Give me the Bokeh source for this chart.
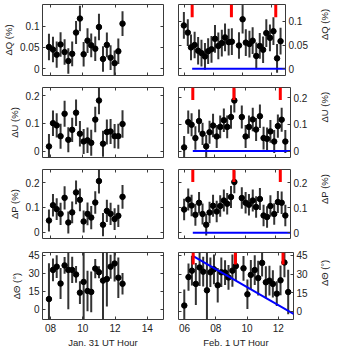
import math
from bokeh.plotting import figure
from bokeh.models import Range1d, FixedTicker, LinearAxis
from bokeh.layouts import column, row
from bokeh.embed import file_html
from bokeh.resources import INLINE

# ---------------- data ----------------
x_jan = [7.90, 8.15, 8.38, 8.62, 8.87, 9.10, 9.34, 9.58, 9.82, 10.05,
         10.29, 10.52, 10.77, 11.00, 11.25, 11.49, 11.72, 11.97, 12.20, 12.46]
x_feb = [5.98, 6.25, 6.47, 6.72, 6.96, 7.19, 7.43, 7.65, 7.88, 8.12,
         8.35, 8.59, 8.81, 9.06, 9.28, 9.77, 10.02, 10.24, 10.49, 10.71,
         10.96, 11.20, 11.43, 11.65, 11.90, 12.14, 12.39, 12.63]

dq_jan = [0.051, 0.045, 0.033, 0.057, 0.039, 0.018, 0.035, 0.085, 0.118, 0.034,
          0.066, 0.055, 0.047, 0.098, 0.023, 0.056, 0.026, 0.013, 0.041, 0.106]
dq_jan_err = [0.031, 0.030, 0.031, 0.029, 0.030, 0.030, 0.029, 0.027, 0.030, 0.029,
              0.029, 0.028, 0.029, 0.031, 0.030, 0.029, 0.029, 0.030, 0.030, 0.029]
du_jan = [0.017, 0.101, 0.093, 0.054, 0.135, 0.041, 0.077, 0.139, 0.063, 0.035,
          0.039, 0.030, 0.114, 0.183, 0.027, 0.069, 0.071, 0.054, 0.054, 0.098]
du_jan_err = [0.045, 0.046, 0.044, 0.045, 0.047, 0.045, 0.044, 0.048, 0.046, 0.045,
              0.046, 0.047, 0.046, 0.050, 0.047, 0.045, 0.045, 0.044, 0.045, 0.050]
dp_jan = [0.047, 0.109, 0.093, 0.074, 0.139, 0.039, 0.080, 0.161, 0.131, 0.043,
          0.074, 0.059, 0.120, 0.207, 0.030, 0.086, 0.074, 0.053, 0.066, 0.143]
dp_jan_err = [0.045, 0.046, 0.044, 0.045, 0.047, 0.045, 0.044, 0.048, 0.046, 0.045,
              0.046, 0.047, 0.046, 0.050, 0.047, 0.045, 0.045, 0.044, 0.045, 0.048]
dt_jan = [8.4, 32.8, 35.5, 21.4, 36.6, 32.8, 32.8, 29.0, 13.8, 22.8,
          15.2, 14.4, 33.9, 30.9, 23.9, 25.2, 35.5, 38.2, 26.3, 21.2]
dt_jan_err = [30, 9.5, 9.5, 13, 7, 33, 11, 7, 9.5, 36,
              17, 17, 8, 5, 36, 23, 10, 15, 17, 9]

dq_feb = [0.091, 0.076, 0.045, 0.050, 0.038, 0.033, 0.026, 0.037, 0.041, 0.063,
          0.048, 0.054, 0.066, 0.056, 0.057, 0.049, 0.104, 0.055, 0.052, 0.059,
          0.027, 0.048, 0.040, 0.075, 0.065, 0.079, 0.022, 0.058]
dq_feb_err = [0.028, 0.028, 0.027, 0.028, 0.029, 0.028, 0.028, 0.027, 0.028, 0.029,
              0.028, 0.028, 0.029, 0.028, 0.028, 0.028, 0.030, 0.028, 0.028, 0.028,
              0.028, 0.027, 0.028, 0.029, 0.028, 0.029, 0.030, 0.028]
du_feb = [0.014, 0.109, 0.099, 0.049, 0.113, 0.065, 0.018, 0.071, 0.096, 0.055,
          0.091, 0.116, 0.091, 0.128, 0.190, 0.128, 0.055, 0.091, 0.119, 0.081,
          0.131, 0.049, 0.046, 0.074, 0.036, 0.094, 0.118, 0.036]
du_feb_err = [0.043, 0.044, 0.043, 0.044, 0.043, 0.042, 0.043, 0.043, 0.044, 0.043,
              0.043, 0.044, 0.043, 0.044, 0.045, 0.043, 0.043, 0.043, 0.044, 0.043,
              0.044, 0.043, 0.043, 0.043, 0.043, 0.044, 0.045, 0.043]
dp_feb = [0.093, 0.133, 0.109, 0.072, 0.120, 0.075, 0.032, 0.081, 0.108, 0.085,
          0.107, 0.129, 0.116, 0.143, 0.203, 0.139, 0.120, 0.112, 0.129, 0.103,
          0.135, 0.069, 0.063, 0.107, 0.075, 0.123, 0.120, 0.069]
dp_feb_err = [0.043, 0.044, 0.043, 0.044, 0.043, 0.042, 0.043, 0.043, 0.044, 0.043,
              0.043, 0.044, 0.043, 0.044, 0.045, 0.043, 0.043, 0.043, 0.044, 0.043,
              0.044, 0.043, 0.043, 0.043, 0.043, 0.044, 0.045, 0.043]
dt_feb = [4.5, 27.5, 32.7, 22.0, 35.3, 31.9, 16.8, 31.4, 33.8, 20.9,
          31.4, 31.2, 27.2, 32.7, 36.4, 34.6, 13.6, 29.3, 33.2, 26.7,
          39.0, 23.3, 24.6, 22.0, 14.1, 24.9, 39.3, 15.4]
dt_feb_err = [13, 11, 12, 17, 15, 12, 35, 12, 12, 14,
              12, 10, 10, 13, 12, 10, 12, 12, 12, 14,
              11, 13, 12, 11, 10, 12, 12, 18]

# event markers (red) and model lines (blue), Feb. 1
event_x = [6.55, 9.25, 12.30]
model_x = [6.55, 13.0]
model_zero = [0.0, 0.0]
model_theta = [44.5, -2.5]

xticks_jan = [8, 10, 12, 14]
xtick_labels_jan = ["08", "10", "12", "14"]
xticks_feb = [6, 8, 10, 12]
xtick_labels_feb = ["06", "08", "10", "12"]
yticks_q = [0, 0.05, 0.1]
ytick_labels_q = ["0", "0.05", "0.1"]
yticks_up = [0, 0.1, 0.2]
ytick_labels_up = ["0", "0.1", "0.2"]
yticks_t = [0, 15, 30, 45]
ytick_labels_t = ["0", "15", "30", "45"]

ylabels = ["ΔQ (%)", "ΔU (%)", "ΔP (%)", "ΔΘ (°)"]
xlabel_jan = "Jan. 31 UT Hour"
xlabel_feb = "Feb. 1 UT Hour"

# ---------------- style ----------------
FONT = "Liberation Sans"
TXT = "#222222"
FRAME = "#3a3a3a"
TICK_FS = "10px"
LAB_FS = "9.5px"

x_range_jan = (7.5, 15.0)
x_range_feb = (5.61, 12.97)
y_ranges_jan = [(-0.016, 0.151), (-0.023, 0.230), (-0.026, 0.254), (-8.7, 47.4)]
y_ranges_feb = [(-0.014, 0.135), (-0.024, 0.239), (-0.023, 0.253), (-6.8, 47.4)]

FRAME_W_L = 121
FRAME_W_R = 120
frame_h = [71, 70, 69, 69]
tops = [4, 6, 6, 7]
bottoms = [6, 6, 7, 29]


def style_axis(ax, ticker, labels, show_labels, tick_standoff=3, label_standoff=3):
    ax.ticker = FixedTicker(ticks=ticker)
    ax.major_label_overrides = {t: l for t, l in zip(ticker, labels)}
    ax.major_tick_in = 3
    ax.major_tick_out = 0
    ax.minor_tick_line_color = None
    ax.major_tick_line_color = FRAME
    ax.axis_line_color = None
    ax.major_label_text_font = FONT
    ax.axis_label_text_font = FONT
    ax.axis_label_text_font_style = "normal"
    ax.axis_label_text_color = TXT
    ax.axis_label_text_font_size = LAB_FS
    if show_labels:
        ax.major_label_text_color = TXT
        ax.major_label_text_font_size = TICK_FS
        ax.major_label_standoff = tick_standoff
        ax.axis_label_standoff = label_standoff
    else:
        ax.major_label_text_color = None
        ax.major_label_text_font_size = "0px"
        ax.major_label_standoff = 0
        ax.axis_label = None


def panel(i, side, xs, ys, errs, xr, yr, xt, xtl, yt, ytl):
    left = side == "left"
    bottom_row = i == 3
    p = figure(
        width=(42 + FRAME_W_L + 7) if left else (8 + FRAME_W_R + 40),
        height=tops[i] + frame_h[i] + bottoms[i],
        x_range=Range1d(*xr), y_range=Range1d(*yr),
        output_backend="svg", toolbar_location=None,
        y_axis_location="left" if left else "right",
        min_border_left=42 if left else 8,
        min_border_right=7 if left else 40,
        min_border_top=tops[i], min_border_bottom=bottoms[i],
    )
    p.xgrid.visible = False
    p.ygrid.visible = False
    p.outline_line_color = FRAME
    p.outline_line_width = 1
    p.background_fill_color = "white"
    p.border_fill_color = "white"

    style_axis(p.xaxis[0], xt, xtl, bottom_row, tick_standoff=4, label_standoff=2)
    if bottom_row:
        p.xaxis[0].axis_label = xlabel_jan if left else xlabel_feb
    if left:
        style_axis(p.yaxis[0], yt, ytl, True, tick_standoff=3, label_standoff=3)
    else:
        style_axis(p.yaxis[0], yt, ytl, True, tick_standoff=3, label_standoff=14)
    p.yaxis[0].axis_label = ylabels[i]
    if not left:
        try:
            p.yaxis[0].axis_label_orientation = math.pi / 2
        except Exception:
            pass

    top_ax = LinearAxis()
    style_axis(top_ax, xt, xtl, False)
    p.add_layout(top_ax, "above")
    side_ax = LinearAxis()
    style_axis(side_ax, yt, ytl, False)
    p.add_layout(side_ax, "right" if left else "left")

    lo = [y - e for y, e in zip(ys, errs)]
    hi = [y + e for y, e in zip(ys, errs)]
    p.segment(x0=xs, y0=lo, x1=xs, y1=hi, line_color="#333333", line_width=2)
    p.scatter(xs, ys, size=5.5, fill_color="black", line_color="black")

    if not left:
        p.extra_y_ranges = {"frac": Range1d(0, 1)}
        my = model_theta if i == 3 else model_zero
        p.line(model_x, my, line_color="#0000ff", line_width=2)
        p.segment(x0=event_x, y0=0.82, x1=event_x, y1=1.0, y_range_name="frac",
                  line_color="#ff0000", line_width=3)
    return p


jan_vals = [(dq_jan, dq_jan_err), (du_jan, du_jan_err), (dp_jan, dp_jan_err), (dt_jan, dt_jan_err)]
feb_vals = [(dq_feb, dq_feb_err), (du_feb, du_feb_err), (dp_feb, dp_feb_err), (dt_feb, dt_feb_err)]
yt_all = [(yticks_q, ytick_labels_q), (yticks_up, ytick_labels_up),
          (yticks_up, ytick_labels_up), (yticks_t, ytick_labels_t)]

rows = []
for i in range(4):
    pl = panel(i, "left", x_jan, jan_vals[i][0], jan_vals[i][1], x_range_jan, y_ranges_jan[i],
               xticks_jan, xtick_labels_jan, yt_all[i][0], yt_all[i][1])
    pr = panel(i, "right", x_feb, feb_vals[i][0], feb_vals[i][1], x_range_feb, y_ranges_feb[i],
               xticks_feb, xtick_labels_feb, yt_all[i][0], yt_all[i][1])
    rows.append(row(pl, pr))

layout = column(*rows)
open("out.html", "w").write(file_html(layout, INLINE))
